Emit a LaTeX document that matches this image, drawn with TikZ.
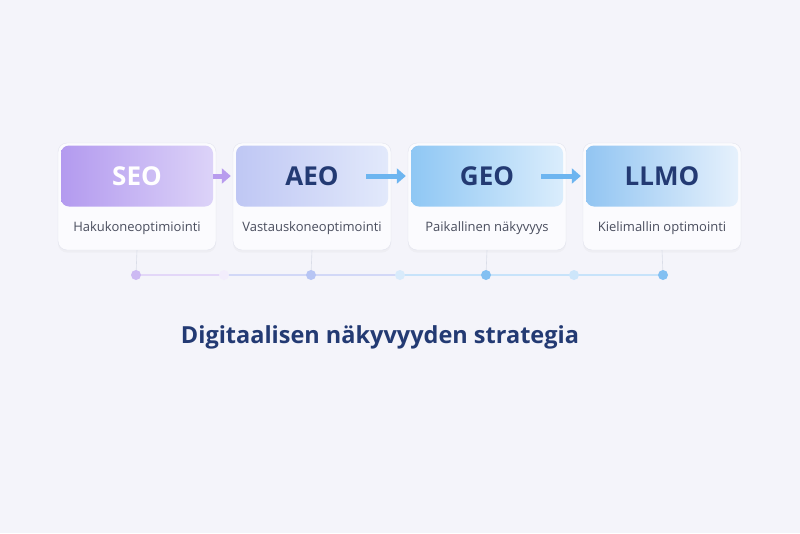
\documentclass[tikz,border=0pt]{standalone}
\usepackage{fontspec}
\setmainfont{Open Sans}
\usetikzlibrary{arrows.meta,shadows}
\definecolor{bg}{HTML}{F4F4FA}
\definecolor{cardfill}{HTML}{FBFBFE}
\definecolor{cardline}{HTML}{E2E4EE}
\definecolor{navy}{HTML}{233A73}
\definecolor{subgray}{HTML}{4A4E5E}
\definecolor{seoA}{HTML}{B39AEF}
\definecolor{seoB}{HTML}{DCD3F8}
\definecolor{aeoA}{HTML}{BFC7F4}
\definecolor{aeoB}{HTML}{E2E9FB}
\definecolor{geoA}{HTML}{8FC7F4}
\definecolor{geoB}{HTML}{DAEDFC}
\definecolor{llmA}{HTML}{92C5F2}
\definecolor{llmB}{HTML}{E6F1FC}
\definecolor{purp}{HTML}{B89CEE}
\definecolor{blu}{HTML}{6DB5F0}
\definecolor{stubc}{HTML}{DADDE8}
\begin{document}
\begin{tikzpicture}[x=1pt,y=-1pt]
\tikzstyle{card}=[draw=cardline,fill=cardfill,rounded corners=9pt,minimum width=158pt,minimum height=107pt,inner sep=0pt,drop shadow={opacity=0.05,shadow xshift=0pt,shadow yshift=-2.5pt}]
\tikzstyle{head}=[rounded corners=8pt,minimum width=152pt,minimum height=61pt,inner sep=0pt,text=navy,font=\bfseries\fontsize{26}{30}\selectfont]
\tikzstyle{sub}=[text=subgray,font=\fontsize{13}{16}\selectfont]
\tikzstyle{arr}=[line width=5pt,-{Triangle[length=9pt,width=15pt]}]
\tikzstyle{stub}=[draw=stubc,line width=0.6pt]
\fill[bg] (0,0) rectangle (800,533);
\useasboundingbox (0,0) rectangle (800,533);
\node[card] (c1) at (137,196.5) {};
\node[card] (c2) at (312,196.5) {};
\node[card] (c3) at (487,196.5) {};
\node[card] (c4) at (662,196.5) {};
\node[head,left color=seoA,right color=seoB,text=white] (h1) at (137,176) {SEO};
\node[head,left color=aeoA,right color=aeoB] (h2) at (312,176) {AEO};
\node[head,left color=geoA,right color=geoB] (h3) at (487,176) {GEO};
\node[head,left color=llmA,right color=llmB] (h4) at (662,176) {LLMO};
\node[sub] (s1) at (137,228) {Hakukoneoptimiointi};
\node[sub] (s2) at (312,228) {Vastauskoneoptimointi};
\node[sub] (s3) at (487,228) {Paikallinen näkyvyys};
\node[sub] (s4) at (662,228) {Kielimallin optimointi};
\draw[arr,purp] (h1.east) -- ([xshift=-5pt]h2.west);
\draw[arr,blu] ([xshift=-22pt]h2.east) -- ([xshift=-5pt]h3.west);
\draw[arr,blu] ([xshift=-22pt]h3.east) -- ([xshift=-5pt]h4.west);
\coordinate (d1) at (136,275);
\coordinate (d2) at (224,275);
\coordinate (d3) at (311,275);
\coordinate (d4) at (400,275);
\coordinate (d5) at (486,275);
\coordinate (d6) at (574,275);
\coordinate (d7) at (663,275);
\draw[stub] (c1.south) -- (d1);
\draw[stub] (c2.south) -- (d3);
\draw[stub] (c3.south) -- (d5);
\draw[stub] (c4.south) -- (d7);
\draw[line width=2pt,color=purp!40] (d1) -- (d2);
\draw[line width=2pt,color=aeoA!70] (d2) -- (d3);
\draw[line width=2pt,color=aeoA!70] (d3) -- (d4);
\draw[line width=2pt,color=geoA!50] (d4) -- (d5);
\draw[line width=2pt,color=geoA!50] (d5) -- (d6);
\draw[line width=2pt,color=geoA!50] (d6) -- (d7);
\fill[color=purp!70] (d1) circle (5);
\fill[color=purp!18] (d2) circle (5);
\fill[color=aeoA!90!blu] (d3) circle (5);
\fill[color=geoA!35] (d4) circle (5);
\fill[color=blu!85] (d5) circle (5);
\fill[color=geoA!45] (d6) circle (5);
\fill[color=blu!85] (d7) circle (5);
\node[text=navy,font=\bfseries\fontsize{23.5}{28}\selectfont] (t) at (380,337) {Digitaalisen näkyvyyden strategia};
\end{tikzpicture}
\end{document}
